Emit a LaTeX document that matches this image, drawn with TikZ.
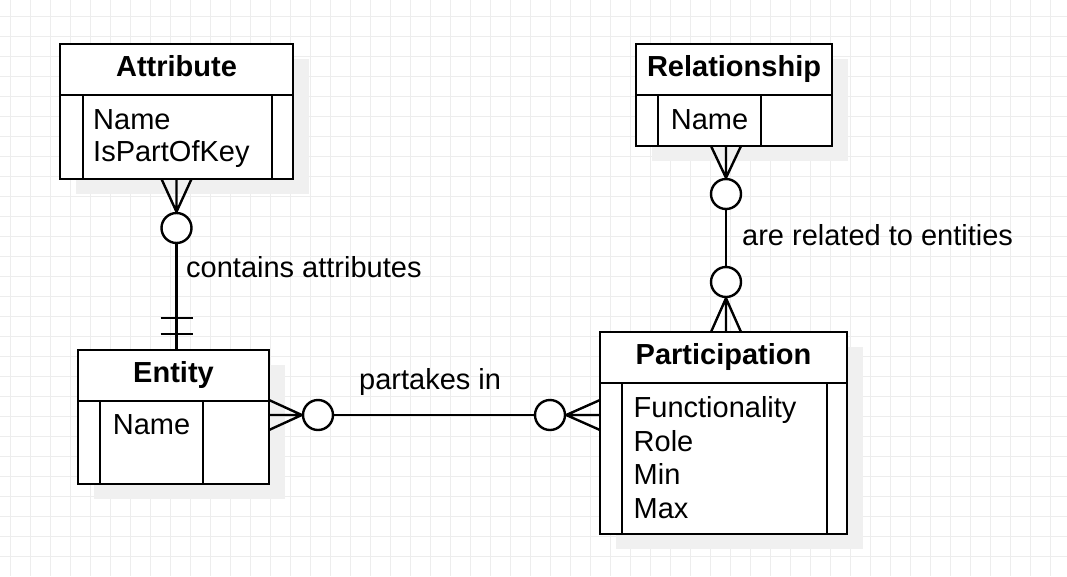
\documentclass[tikz,border=0pt]{standalone}
\usepackage{fontspec}
\setmainfont{Liberation Sans}
\usetikzlibrary{positioning,shadows}

\begin{document}
\begin{tikzpicture}[x=1pt,y=-1pt,line width=2.4pt]
\tikzset{gridline/.style = {draw=black!7, line width=1pt}}
\tikzset{head/.style = {shape=rectangle,draw,fill=white,outer sep=0pt,inner sep=0pt,minimum height=51pt,text height=20pt,text depth=6pt,font=\fontsize{29}{33}\selectfont\bfseries,drop shadow={shadow xshift=16pt,shadow yshift=-15pt,fill=black!6,opacity=1}}}
\tikzset{body/.style = {head,font=\fontsize{29}{33}\selectfont}}
\tikzset{col/.style = {line width=2pt}}
\tikzset{row/.style = {anchor=base west,inner sep=0pt,font=\fontsize{29}{33}\selectfont}}
\tikzset{rowmid/.style = {row,anchor=base}}
\tikzset{reltext/.style = {anchor=base west,inner sep=0pt,font=\fontsize{29}{33}\selectfont}}
\tikzset{zero/.style = {shape=circle,draw,fill=white,minimum size=30pt,inner sep=0pt}}

\useasboundingbox (0,0) rectangle (1067,576);
\fill[white] (0,0) rectangle (1067,576);
% grid
\foreach \x in {10,30,...,1050} \draw[gridline] (\x,0) -- (\x,576);
\foreach \y in {16,36,...,556} \draw[gridline] (0,\y) -- (1067,\y);

% entities
\node[head,minimum width=233pt,anchor=north west] (attr) at (60,44) {Attribute};
\node[body,minimum width=233pt,minimum height=84pt,below=0pt of attr] (attrbody) {};
\draw[col] ([xshift=23pt]attrbody.north west) -- ([xshift=23pt]attrbody.south west);
\draw[col] ([xshift=-21pt]attrbody.north east) -- ([xshift=-21pt]attrbody.south east);
\node[row] (attrname) at ([xshift=32pt,yshift=-34pt]attrbody.north west) {Name};
\node[row] (attrkey) at ([xshift=32pt,yshift=-66.5pt]attrbody.north west) {IsPartOfKey};

\node[head,minimum width=191pt,anchor=north west] (ent) at (78,350) {Entity};
\node[body,minimum width=191pt,minimum height=83pt,below=0pt of ent] (entbody) {};
\draw[col] ([xshift=22pt]entbody.north west) -- ([xshift=22pt]entbody.south west);
\draw[col] ([xshift=-66pt]entbody.north east) -- ([xshift=-66pt]entbody.south east);
\node[rowmid] (entname) at ([xshift=73.5pt,yshift=-33.5pt]entbody.north west) {Name};

\node[head,minimum width=196pt,anchor=north west] (rel) at (636,44) {Relationship};
\node[body,minimum width=196pt,minimum height=51pt,below=0pt of rel] (relbody) {};
\draw[col] ([xshift=22pt]relbody.north west) -- ([xshift=22pt]relbody.south west);
\draw[col] ([xshift=-71pt]relbody.north east) -- ([xshift=-71pt]relbody.south east);
\node[rowmid] (relname) at ([xshift=73.5pt,yshift=-34.5pt]relbody.north west) {Name};

\node[head,minimum width=247pt,anchor=north west] (part) at (600,332) {Participation};
\node[body,minimum width=247pt,minimum height=151pt,below=0pt of part] (partbody) {};
\draw[col] ([xshift=22pt]partbody.north west) -- ([xshift=22pt]partbody.south west);
\draw[col] ([xshift=-20pt]partbody.north east) -- ([xshift=-20pt]partbody.south east);
\foreach \t [count=\i] in {Functionality,Role,Min,Max}
  \node[row] (part\i) at ([xshift=32.5pt,yshift={-34.3pt-33.7pt*(\i-1)}]partbody.north west) {\t};

% attribute -- entity
\node[zero] (attrc) at (176.5,228) {};
\coordinate (attrft) at (176.5,179);
\coordinate (entop) at (176.5,350);
\draw (attrc.north) -- ([xshift=-15pt]attrft) (attrc.north) -- (attrft) (attrc.north) -- ([xshift=15pt]attrft);
\draw (attrc.south) -- (entop);
\draw ([xshift=-16pt,yshift=16pt]entop) -- ([xshift=16pt,yshift=16pt]entop);
\draw ([xshift=-16pt,yshift=32pt]entop) -- ([xshift=16pt,yshift=32pt]entop);
\node[reltext] (lblcontains) at (185,277) {contains attributes};

% entity -- participation
\node[zero] (entc) at (318,415) {};
\node[zero] (partc) at (550,415) {};
\coordinate (entft) at (269,415);
\coordinate (partft) at (600,415);
\draw (entc.west) -- ([yshift=15pt]entft) (entc.west) -- (entft) (entc.west) -- ([yshift=-15pt]entft);
\draw (partc.east) -- ([yshift=15pt]partft) (partc.east) -- (partft) (partc.east) -- ([yshift=-15pt]partft);
\draw (entc) -- (partc);
\node[reltext] (lblpartakes) at (358,389) {partakes in};

% relationship -- participation
\node[zero] (relc) at (726,194) {};
\node[zero] (relc2) at (726,282) {};
\coordinate (relft) at (726,146);
\coordinate (partop) at (726,332);
\draw (relc.north) -- ([xshift=-15pt]relft) (relc.north) -- (relft) (relc.north) -- ([xshift=15pt]relft);
\draw (relc) -- (relc2);
\draw (relc2.south) -- ([xshift=-15pt]partop) (relc2.south) -- (partop) (relc2.south) -- ([xshift=15pt]partop);
\node[reltext] (lblrelated) at (741,245) {are related to entities};

\end{tikzpicture}
\end{document}
